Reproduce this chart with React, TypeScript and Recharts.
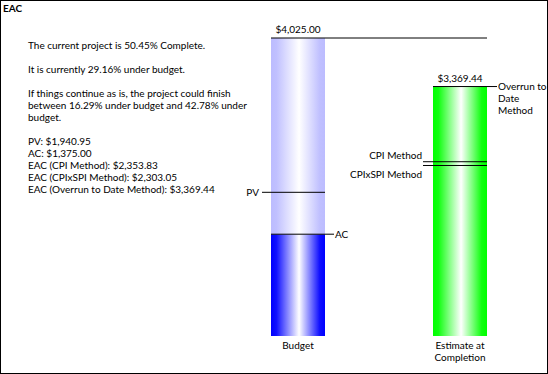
import React from 'react';
import { ComposedChart, Bar, Cell, Scatter, XAxis, YAxis } from 'recharts';

// values
const categories = ['Budget', 'Estimate at Completion'];
const budgetTotal = 4025.0;
const plannedValue = 1940.95;
const actualCost = 1375.0;
const eacCpi = 2353.83;
const eacCpiSpi = 2303.05;
const eacOverrun = 3369.44;

const percentComplete = 50.45;
const percentUnder = 29.16;
const rangeLow = 16.29;
const rangeHigh = 42.78;

const FONT = 'Lato, sans-serif';
const FS = 10;
const BAR = 54;

const money = (v: number) =>
  '$' + v.toLocaleString('en-US', { minimumFractionDigits: 2, maximumFractionDigits: 2 });

const data = [
  {
    name: categories[0],
    lower: actualCost,
    upper: budgetTotal - actualCost,
    total: budgetTotal,
    pv: plannedValue,
    ac: actualCost,
  },
  {
    name: categories[1],
    lower: eacOverrun,
    upper: 0,
    overrun: eacOverrun,
    cpi: eacCpi,
    cpixspi: eacCpiSpi,
  },
];

type MarkOpts = {
  from: number;
  to: number;
  label?: string[];
  labelX?: number;
  labelDy?: number;
  anchor?: 'start' | 'end' | 'middle';
  valueAbove?: boolean;
};

const marker = (key: string, o: MarkOpts) => (props: any) => {
  const { cx, cy, payload } = props;
  if (payload == null || payload[key] == null || isNaN(cy)) return <g />;
  return (
    <g>
      <line x1={cx + o.from} x2={cx + o.to} y1={cy} y2={cy} stroke="#000" strokeWidth={1} />
      {o.valueAbove && (
        <text x={cx} y={cy - 5} textAnchor="middle" fontSize={FS} fontFamily={FONT} fill="#000">
          {money(payload[key])}
        </text>
      )}
      {o.label &&
        o.label.map((l, i) => (
          <text
            key={i}
            x={cx + (o.labelX ?? 0)}
            y={cy + (o.labelDy ?? 0) + i * 12}
            dy="0.35em"
            textAnchor={o.anchor ?? 'start'}
            fontSize={FS}
            fontFamily={FONT}
            fill="#000"
          >
            {l}
          </text>
        ))}
    </g>
  );
};

// wrap category names at ~12 characters
const wrap = (s: string, max = 12) => {
  const out: string[] = [];
  let cur = '';
  s.split(' ').forEach((w) => {
    if (cur && (cur + ' ' + w).length > max) {
      out.push(cur);
      cur = w;
    } else {
      cur = cur ? cur + ' ' + w : w;
    }
  });
  if (cur) out.push(cur);
  return out;
};

const CategoryTick = ({ x, y, payload }: any) => (
  <g>
    {wrap(String(payload.value)).map((l, i) => (
      <text
        key={i}
        x={x}
        y={y + 1 + i * 12}
        dy="0.35em"
        textAnchor="middle"
        fontSize={FS}
        fontFamily={FONT}
        fill="#000"
      >
        {l}
      </text>
    ))}
  </g>
);

const App = () => {
  const lines = [
    `The current project is ${percentComplete}% Complete.`,
    '',
    `It is currently ${percentUnder}% under budget.`,
    '',
    'If things continue as is, the project could finish',
    `between ${rangeLow}% under budget and ${rangeHigh}% under`,
    'budget.',
    '',
    `PV: ${money(plannedValue)}`,
    `AC: ${money(actualCost)}`,
    `EAC (CPI Method): ${money(eacCpi)}`,
    `EAC (CPIxSPI Method): ${money(eacCpiSpi)}`,
    `EAC (Overrun to Date Method): ${money(eacOverrun)}`,
  ];
  return (
    <div style={{ position: 'relative', width: 548, height: 374, background: '#fff', fontFamily: FONT }}>
      <style>{'body{margin:0}'}</style>
      <div style={{ position: 'absolute', inset: 0, border: '1px solid #000' }} />
      <div style={{ position: 'absolute', left: 3, top: 1, fontSize: FS, fontWeight: 'bold', lineHeight: '14px' }}>
        EAC
      </div>
      <div style={{ position: 'absolute', left: 28, top: 39, fontSize: FS, lineHeight: '12px' }}>
        {lines.map((l, i) => (
          <div key={i} style={{ whiteSpace: 'nowrap', height: 12 }}>
            {l}
          </div>
        ))}
      </div>
      <div style={{ position: 'absolute', left: 0, top: 0 }}>
        <ComposedChart width={548} height={374} data={data} margin={{ top: 38, right: 7, bottom: 8, left: 217 }}>
          <defs>
            <linearGradient id="gBlue" x1="0" y1="0" x2="1" y2="0">
              <stop offset="0" stopColor="#0000ff" />
              <stop offset="0.1" stopColor="#1010ff" />
              <stop offset="0.52" stopColor="#ffffff" />
              <stop offset="0.9" stopColor="#1010ff" />
              <stop offset="1" stopColor="#0000ff" />
            </linearGradient>
            <linearGradient id="gLight" x1="0" y1="0" x2="1" y2="0">
              <stop offset="0" stopColor="#bcbcff" />
              <stop offset="0.1" stopColor="#c0c0ff" />
              <stop offset="0.52" stopColor="#ffffff" />
              <stop offset="0.9" stopColor="#c0c0ff" />
              <stop offset="1" stopColor="#bcbcff" />
            </linearGradient>
            <linearGradient id="gGreen" x1="0" y1="0" x2="1" y2="0">
              <stop offset="0" stopColor="#00ff00" />
              <stop offset="0.1" stopColor="#10ff10" />
              <stop offset="0.52" stopColor="#ffffff" />
              <stop offset="0.9" stopColor="#10ff10" />
              <stop offset="1" stopColor="#00ff00" />
            </linearGradient>
          </defs>
          <XAxis
            dataKey="name"
            axisLine={false}
            tickLine={false}
            height={30}
            tick={<CategoryTick />}
            interval={0}
            allowDuplicatedCategory={false}
          />
          <YAxis hide domain={[0, budgetTotal]} />
          <Bar dataKey="lower" stackId="s" barSize={BAR} isAnimationActive={false}>
            {data.map((d, i) => (
              <Cell key={i} fill={i === 0 ? 'url(#gBlue)' : 'url(#gGreen)'} />
            ))}
          </Bar>
          <Bar dataKey="upper" stackId="s" barSize={BAR} fill="url(#gLight)" isAnimationActive={false} />
          <Scatter dataKey="total" isAnimationActive={false} shape={marker('total', { from: -27, to: 189, valueAbove: true })} />
          <Scatter
            dataKey="pv"
            isAnimationActive={false}
            shape={marker('pv', { from: -36, to: 27, label: ['PV'], labelX: -39, anchor: 'end' })}
          />
          <Scatter
            dataKey="ac"
            isAnimationActive={false}
            shape={marker('ac', { from: -27, to: 36, label: ['AC'], labelX: 37 })}
          />
          <Scatter
            dataKey="overrun"
            isAnimationActive={false}
            shape={marker('overrun', {
              from: -27,
              to: 37,
              valueAbove: true,
              label: ['Overrun to', 'Date', 'Method'],
              labelX: 38,
            })}
          />
          <Scatter
            dataKey="cpi"
            isAnimationActive={false}
            shape={marker('cpi', { from: -37, to: 27, label: ['CPI Method'], labelX: -38, labelDy: -6, anchor: 'end' })}
          />
          <Scatter
            dataKey="cpixspi"
            isAnimationActive={false}
            shape={marker('cpixspi', {
              from: -37,
              to: 27,
              label: ['CPIxSPI Method'],
              labelX: -38,
              labelDy: 9,
              anchor: 'end',
            })}
          />
        </ComposedChart>
      </div>
    </div>
  );
};

export default App;
